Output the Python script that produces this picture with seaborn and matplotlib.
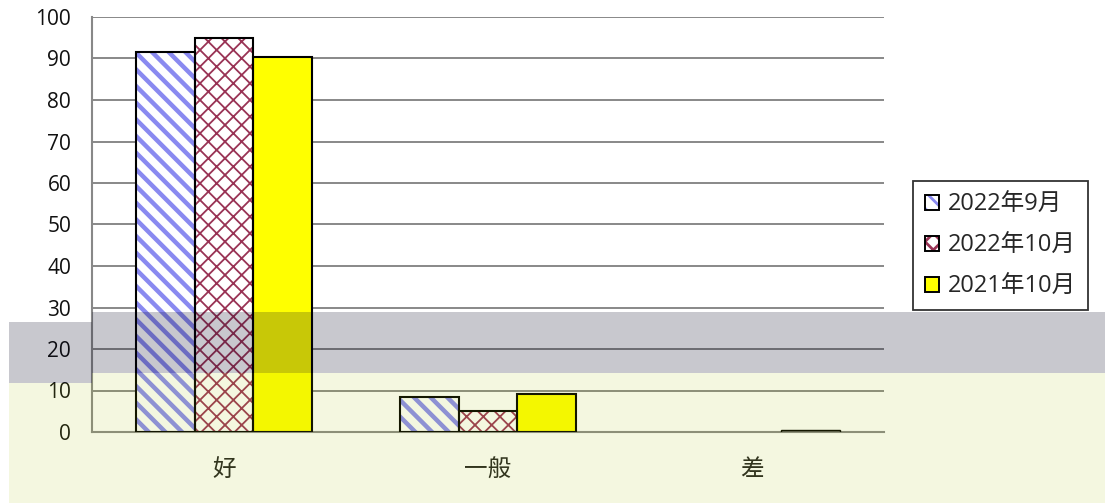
import numpy as np
import pandas as pd
import matplotlib
matplotlib.use("Agg")
import matplotlib.pyplot as plt
from matplotlib.patches import Rectangle, Patch
import seaborn as sns

categories = ["好", "一般", "差"]
series = ["2022年9月", "2022年10月", "2021年10月"]
sep_2022 = [91.5, 8.4, 0.0]
oct_2022 = [95.0, 5.1, 0.0]
oct_2021 = [90.3, 9.1, 0.6]

df = pd.DataFrame({
    "cat": categories * 3,
    "series": [series[0]] * 3 + [series[1]] * 3 + [series[2]] * 3,
    "value": sep_2022 + oct_2022 + oct_2021,
})

sns.set_theme(style="white")
plt.rcParams["font.family"] = ["Open Sans", "Noto Sans CJK SC", "DejaVu Sans"]

W, H = 1105, 503
fig = plt.figure(figsize=(W / 100, H / 100), dpi=100)
ax = fig.add_axes([92 / W, 1 - 432 / H, (884 - 92) / W, (432 - 17) / H])

sns.barplot(data=df, x="cat", y="value", hue="series", order=categories,
            hue_order=series, width=0.667, gap=0, dodge=True, ax=ax,
            legend=False, saturation=1, errorbar=None)

styles = [
    dict(face="white", hatch="\\\\", hcolor="#8A8AF0", hlw=3.2),
    dict(face="white", hatch="xx", hcolor="#993355", hlw=1.3),
    dict(face="#FFFF00", hatch=None, hcolor="#FFFF00", hlw=1.0),
]

for cont, st in zip(ax.containers, styles):
    for bar in cont:
        bar.set_facecolor(st["face"])
        bar.set_edgecolor(st["hcolor"])
        bar.set_linewidth(0)
        if st["hatch"]:
            bar.set_hatch(st["hatch"])
            if hasattr(bar, "set_hatch_linewidth"):
                bar.set_hatch_linewidth(st["hlw"])
        bar.set_zorder(2)
        h = bar.get_height()
        if h > 0:
            ax.add_patch(Rectangle(bar.get_xy(), bar.get_width(), h,
                                   fill=False, edgecolor="black",
                                   lw=1.5 if h > 2 else 1.0, zorder=3))

ax.set_ylim(0, 100)
ax.set_xlim(-0.5, 2.5)
ax.set_yticks(np.arange(0, 101, 10))
ax.set_xticks(range(len(categories)))
ax.set_xticklabels(categories, fontsize=17)
ax.set_xticks(np.arange(-0.5, 2.6, 1), minor=True)
ax.tick_params(axis="x", which="major", length=0, pad=19, colors="#222222")
ax.tick_params(axis="x", which="minor", length=9, width=1.5, color="#888888", direction="out")
ax.tick_params(axis="y", length=9, width=1.5, color="#888888", direction="out",
               labelsize=15, pad=6, labelcolor="#111111")
ax.set_xlabel("")
ax.set_ylabel("")
ax.yaxis.grid(True, color="#888888", lw=1.4)
ax.set_axisbelow(True)
for s in ["top", "right"]:
    ax.spines[s].set_visible(False)
for s in ["left", "bottom"]:
    ax.spines[s].set_color("#888888")
    ax.spines[s].set_linewidth(1.5)

handles = []
for st in styles:
    h1 = Patch(facecolor=st["face"], edgecolor=st["hcolor"], lw=0, hatch=st["hatch"])
    h2 = Patch(facecolor="none", edgecolor="black", lw=1.4)
    handles.append((h1, h2))
plt.rcParams["hatch.linewidth"] = 2.0
leg = fig.legend(handles, series, loc="center left",
                 bbox_to_anchor=(913 / W, 1 - 245.5 / H), fontsize=17,
                 handlelength=0.62, handleheight=0.62, handletextpad=0.35,
                 labelspacing=0.72, borderpad=0.5, borderaxespad=0,
                 frameon=True, fancybox=False)
leg.get_frame().set_edgecolor("black")
leg.get_frame().set_linewidth(1.3)

# screenshot overlay bands
def frect(x0, y0, x1, y1, color, alpha):
    fig.patches.append(Rectangle((x0 / W, 1 - y1 / H), (x1 - x0) / W, (y1 - y0) / H,
                                 transform=fig.transFigure, facecolor=color,
                                 alpha=alpha, lw=0, zorder=10))

frect(9, 322, 92, 383, (0.02, 0.02, 0.13), 0.22)
frect(92, 312, W, 373, (0.02, 0.02, 0.13), 0.22)
frect(9, 383, 92, H, (0.67, 0.77, 0.02), 0.12)
frect(92, 373, W, H, (0.67, 0.77, 0.02), 0.12)

fig.savefig("out.png", dpi=100)
